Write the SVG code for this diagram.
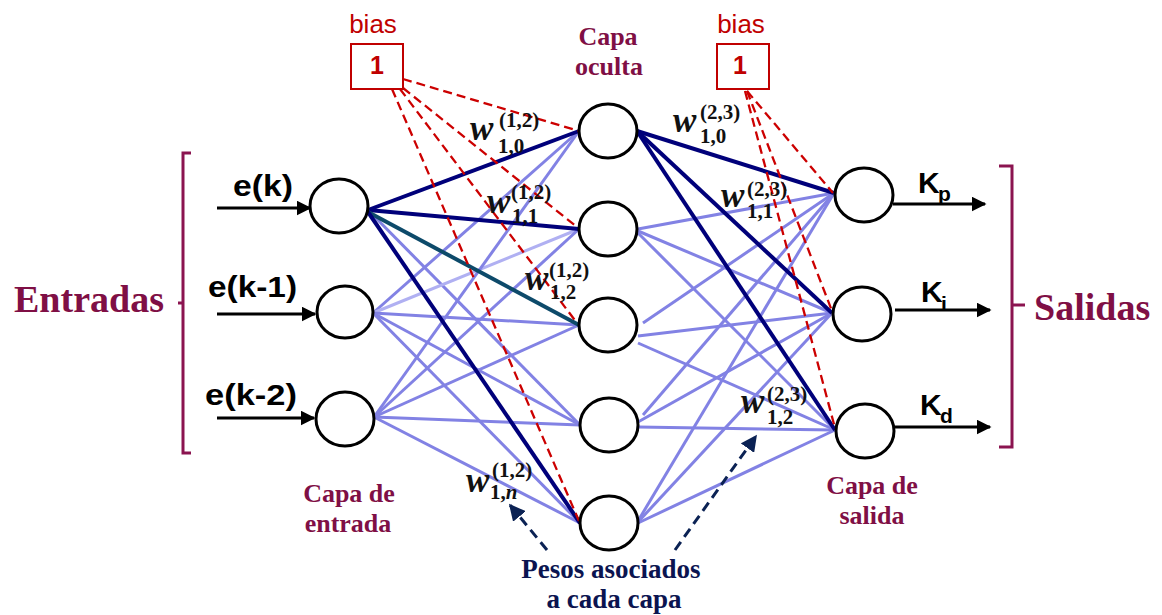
<svg xmlns="http://www.w3.org/2000/svg" width="1162" height="615" viewBox="0 0 1162 615">
  <defs>
    <marker id="arrowBlack" viewBox="0 0 10 10" refX="9" refY="5" markerWidth="5" markerHeight="5" orient="auto" markerUnits="strokeWidth">
      <path d="M0,0 L10,5 L0,10 z" fill="#000"/>
    </marker>
    <marker id="arrowNavy" viewBox="0 0 10 10" refX="9" refY="5" markerWidth="5.5" markerHeight="5.5" orient="auto" markerUnits="strokeWidth">
      <path d="M0,0 L10,5 L0,10 z" fill="#0b2254"/>
    </marker>
    <style>
      .node { fill: #fff; stroke: #000; stroke-width: 3; }
      .lb { stroke: #8282e4; stroke-width: 3; fill: none; }
      .lbl { stroke: #b0b0f2; stroke-width: 3; fill: none; }
      .dk { stroke: #00007a; stroke-width: 4; fill: none; }
      .tl { stroke: #0d4a6a; stroke-width: 4; fill: none; }
      .bias { stroke: #cc0000; stroke-width: 2.3; stroke-dasharray: 9 5; fill: none; }
      .io { stroke: #000; stroke-width: 3; fill: none; }
      .hint { stroke: #0b2254; stroke-width: 3; stroke-dasharray: 10 6; fill: none; }
      .brace { stroke: #8b1450; stroke-width: 3; fill: none; }
      .sig { font-family: "Liberation Sans", Arial, sans-serif; font-weight: bold; font-size: 30px; fill: #000; }
      .sub { font-family: "Liberation Sans", Arial, sans-serif; font-weight: bold; font-size: 21px; fill: #000; }
      .biast { font-family: "Liberation Sans", Arial, sans-serif; font-size: 26px; fill: #c00000; }
      .one { font-family: "Liberation Sans", Arial, sans-serif; font-weight: bold; font-size: 25px; fill: #c00000; }
      .big { font-family: "Liberation Serif", "Times New Roman", serif; font-weight: bold; font-size: 38px; fill: #7f0f45; }
      .layer { font-family: "Liberation Serif", "Times New Roman", serif; font-weight: bold; font-size: 26px; fill: #7f0f45; }
      .note { font-family: "Liberation Serif", "Times New Roman", serif; font-weight: bold; font-size: 27px; fill: #0b1450; }
      .w { font-family: "Liberation Serif", "Times New Roman", serif; font-style: italic; font-weight: bold; font-size: 35px; fill: #111; }
      .ws { font-family: "Liberation Serif", "Times New Roman", serif; font-weight: bold; font-size: 21px; fill: #111; }
    </style>
  </defs>

  <!-- connections -->
  <g id="connectors">
    <!-- input layer to hidden layer -->
    <line class="lb" x1="368" y1="210" x2="580" y2="425"/>
    <line class="lb" x1="373" y1="313" x2="579" y2="131"/>
    <line class="lbl" x1="373" y1="313" x2="579" y2="229"/>
    <line class="lb" x1="373" y1="313" x2="579" y2="325"/>
    <line class="lb" x1="373" y1="313" x2="580" y2="425"/>
    <line class="lb" x1="373" y1="313" x2="580" y2="523"/>
    <line class="lb" x1="374" y1="417" x2="579" y2="131"/>
    <line class="lb" x1="374" y1="417" x2="579" y2="229"/>
    <line class="lb" x1="374" y1="417" x2="579" y2="325"/>
    <line class="lb" x1="374" y1="417" x2="580" y2="425"/>
    <line class="lb" x1="374" y1="417" x2="580" y2="523"/>
    <!-- hidden layer to output layer -->
    <line class="lb" x1="638" y1="229" x2="834" y2="193"/>
    <line class="lb" x1="638" y1="231" x2="832" y2="313"/>
    <line class="lb" x1="638" y1="233" x2="835" y2="430"/>
    <line class="lb" x1="643" y1="323" x2="834" y2="193"/>
    <line class="lb" x1="638" y1="336" x2="832" y2="313"/>
    <line class="lb" x1="638" y1="343" x2="835" y2="430"/>
    <line class="lb" x1="643" y1="415" x2="834" y2="193"/>
    <line class="lb" x1="638" y1="422" x2="832" y2="313"/>
    <line class="lb" x1="638" y1="427" x2="835" y2="430"/>
    <line class="lb" x1="638" y1="521" x2="834" y2="193"/>
    <line class="lb" x1="638" y1="522" x2="832" y2="313"/>
    <line class="lb" x1="638" y1="523" x2="835" y2="430"/>
    <!-- highlighted weights -->
    <line class="dk" x1="368" y1="210" x2="579" y2="131"/>
    <line class="dk" x1="368" y1="210" x2="579" y2="229"/>
    <line class="tl" x1="368" y1="212" x2="579" y2="325"/>
    <line class="dk" x1="368" y1="212" x2="580" y2="523"/>
    <line class="dk" x1="637" y1="131" x2="834" y2="193"/>
    <line class="dk" x1="637" y1="131" x2="832" y2="313"/>
    <line class="dk" x1="637" y1="131" x2="835" y2="430"/>
    <!-- bias links -->
    <line class="bias" x1="403" y1="79" x2="579" y2="131"/>
    <line class="bias" x1="403" y1="88" x2="577" y2="227"/>
    <line class="bias" x1="400" y1="89" x2="577" y2="323"/>
    <line class="bias" x1="392" y1="89" x2="579" y2="521"/>
    <line class="bias" x1="747" y1="91" x2="833" y2="193"/>
    <line class="bias" x1="747" y1="91" x2="832" y2="311"/>
    <line class="bias" x1="745" y1="91" x2="835" y2="428"/>
    <!-- input and output signals -->
    <line class="io" x1="217" y1="208" x2="310" y2="208" marker-end="url(#arrowBlack)"/>
    <line class="io" x1="217" y1="314" x2="315" y2="314" marker-end="url(#arrowBlack)"/>
    <line class="io" x1="217" y1="418" x2="314" y2="418" marker-end="url(#arrowBlack)"/>
    <line class="io" x1="893" y1="204" x2="985" y2="204" marker-end="url(#arrowBlack)"/>
    <line class="io" x1="895" y1="310" x2="990" y2="310" marker-end="url(#arrowBlack)"/>
    <line class="io" x1="894" y1="427" x2="990" y2="427" marker-end="url(#arrowBlack)"/>
    <!-- pointers to the weight labels -->
    <line class="hint" x1="547" y1="550" x2="510" y2="505" marker-end="url(#arrowNavy)"/>
    <line class="hint" x1="675" y1="550" x2="756" y2="436" marker-end="url(#arrowNavy)"/>
  </g>

  <!-- input layer -->
  <g id="in1"><ellipse class="node" cx="339" cy="206" rx="29" ry="27"/></g>
  <g id="in2"><ellipse class="node" cx="345" cy="312" rx="28" ry="26"/></g>
  <g id="in3"><ellipse class="node" cx="345" cy="419" rx="29" ry="27"/></g>

  <!-- hidden layer -->
  <g id="h1"><ellipse class="node" cx="608" cy="131" rx="29" ry="27"/></g>
  <g id="h2"><ellipse class="node" cx="608" cy="229" rx="29" ry="27"/></g>
  <g id="h3"><ellipse class="node" cx="608" cy="325" rx="29" ry="27"/></g>
  <g id="h4"><ellipse class="node" cx="609" cy="425" rx="29" ry="27"/></g>
  <g id="h5"><ellipse class="node" cx="609" cy="523" rx="29" ry="27"/></g>

  <!-- output layer -->
  <g id="out1"><ellipse class="node" cx="864" cy="195" rx="29" ry="27"/></g>
  <g id="out2"><ellipse class="node" cx="862" cy="314" rx="29" ry="27"/></g>
  <g id="out3"><ellipse class="node" cx="865" cy="431" rx="29" ry="27"/></g>

  <!-- bias units -->
  <g id="bias1">
    <text class="biast" x="373" y="33" text-anchor="middle">bias</text>
    <rect x="351" y="44" width="52" height="45" fill="#fff" stroke="#c00000" stroke-width="2"/>
    <text class="one" x="377" y="74" text-anchor="middle">1</text>
  </g>
  <g id="bias2">
    <text class="biast" x="741" y="33" text-anchor="middle">bias</text>
    <rect x="717" y="44" width="52" height="45" fill="#fff" stroke="#c00000" stroke-width="2"/>
    <text class="one" x="740" y="74" text-anchor="middle">1</text>
  </g>

  <!-- signal labels -->
  <g id="signals">
    <text class="sig" x="233" y="196" textLength="60" lengthAdjust="spacingAndGlyphs">e(k)</text>
    <text class="sig" x="208" y="297" textLength="89" lengthAdjust="spacingAndGlyphs">e(k-1)</text>
    <text class="sig" x="205" y="405" textLength="92" lengthAdjust="spacingAndGlyphs">e(k-2)</text>
    <text class="sig" x="918" y="193">K</text><text class="sub" x="938" y="201">p</text>
    <text class="sig" x="921" y="302">K</text><text class="sub" x="941" y="311">i</text>
    <text class="sig" x="920" y="415">K</text><text class="sub" x="940" y="423">d</text>
  </g>

  <!-- groupings -->
  <g id="entradas">
    <path class="brace" d="M191,153 H183 V453 H191 M183,303 H178"/>
    <text class="big" x="14" y="312">Entradas</text>
  </g>
  <g id="salidas">
    <path class="brace" d="M999,166 H1012 V447 H999 M1012,305 H1025"/>
    <text class="big" x="1034" y="320">Salidas</text>
  </g>

  <!-- layer captions -->
  <g id="captions">
    <text class="layer" x="608" y="45" text-anchor="middle">Capa</text>
    <text class="layer" x="609" y="75" text-anchor="middle">oculta</text>
    <text class="layer" x="349" y="502" text-anchor="middle">Capa de</text>
    <text class="layer" x="348" y="532" text-anchor="middle">entrada</text>
    <text class="layer" x="872" y="494" text-anchor="middle">Capa de</text>
    <text class="layer" x="872" y="524" text-anchor="middle">salida</text>
    <text class="note" x="611" y="578" text-anchor="middle">Pesos asociados</text>
    <text class="note" x="614" y="608" text-anchor="middle">a cada capa</text>
  </g>

  <!-- weight labels -->
  <g id="weights">
    <text class="w" x="470" y="140">w</text><text class="ws" x="499" y="127">(1,2)</text><text class="ws" x="498" y="153">1,0</text>
    <text class="w" x="487" y="213">w</text><text class="ws" x="511" y="199">(1,2)</text><text class="ws" x="512" y="223">1,1</text>
    <text class="w" x="525" y="290">w</text><text class="ws" x="549" y="277">(1,2)</text><text class="ws" x="550" y="299">1,2</text>
    <text class="w" x="466" y="492">w</text><text class="ws" x="492" y="477">(1,2)</text><text class="ws" x="490" y="499">1,<tspan font-style="italic">n</tspan></text>
    <text class="w" x="673" y="132">w</text><text class="ws" x="700" y="119">(2,3)</text><text class="ws" x="700" y="143">1,0</text>
    <text class="w" x="721" y="207">w</text><text class="ws" x="747" y="196">(2,3)</text><text class="ws" x="747" y="218">1,1</text>
    <text class="w" x="741" y="413">w</text><text class="ws" x="767" y="401">(2,3)</text><text class="ws" x="767" y="424">1,2</text>
  </g>
</svg>
